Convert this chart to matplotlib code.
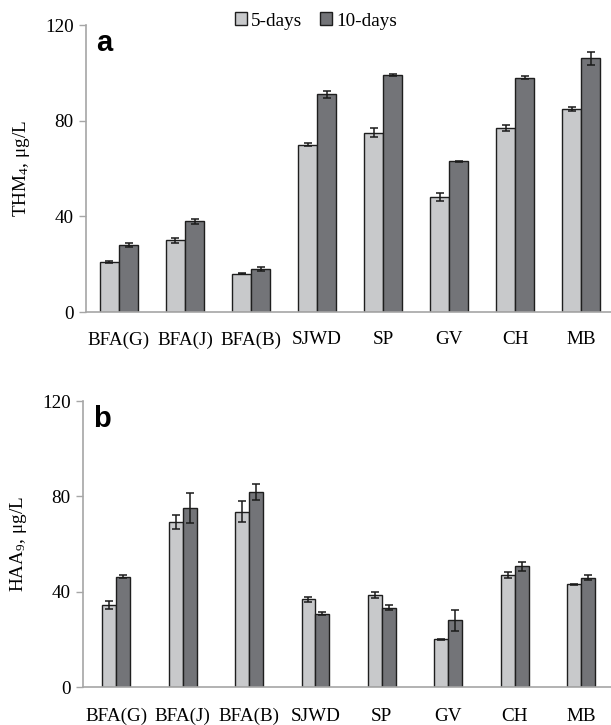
import matplotlib
matplotlib.use("Agg")
import matplotlib.pyplot as plt
from matplotlib.patches import Patch
import numpy as np

plt.rcParams['font.family'] = ['Liberation Serif', 'DejaVu Serif']
plt.rcParams['mathtext.fontset'] = 'custom'
plt.rcParams['mathtext.rm'] = 'Liberation Serif'
plt.rcParams['mathtext.it'] = 'Liberation Serif'

categories = ["BFA(G)", "BFA(J)", "BFA(B)", "SJWD", "SP", "GV", "CH", "MB"]
series_names = ["5-days", "10-days"]

thm_5 = [21, 30, 16, 70, 75, 48, 77, 85]
thm_5_err = [0.5, 1.0, 0.3, 0.8, 1.9, 1.7, 1.3, 0.8]
thm_10 = [28, 38, 18, 91, 99, 63, 98, 106]
thm_10_err = [1.0, 1.0, 0.8, 1.5, 0.5, 0.1, 0.5, 2.7]

haa_5 = [34.4, 69.4, 73.6, 36.8, 38.6, 20.0, 47.0, 43.1]
haa_5_err = [1.6, 2.9, 4.5, 1.0, 1.1, 0.1, 1.4, 0.2]
haa_10 = [46.3, 75.1, 81.8, 30.8, 33.3, 28.0, 50.6, 45.9]
haa_10_err = [0.7, 6.4, 3.4, 0.6, 1.2, 4.5, 2.0, 1.0]

yticks = [0, 40, 80, 120]

light = '#c8c9cb'
dark = '#737478'
edge = '#1e1e1e'
axis_gray = '#a6a6a6'

FS = 13.8

W, H = 611, 725
fig = plt.figure(figsize=(W / 100, H / 100), dpi=100)

def px_axes(left, top, right, bottom):
    return fig.add_axes([left / W, 1 - bottom / H, (right - left) / W, (bottom - top) / H])

def draw(ax, v5, e5, v10, e10, width, ylabel, letter, pad):
    x = np.arange(len(categories))
    ekw = dict(ecolor='#1a1a1a', elinewidth=1.1, capsize=3, capthick=1.1)
    ax.bar(x - width / 2, v5, width, yerr=e5, color=light, edgecolor=edge,
           linewidth=1.0, error_kw=ekw, zorder=2)
    ax.bar(x + width / 2, v10, width, yerr=e10, color=dark, edgecolor=edge,
           linewidth=1.0, error_kw=ekw, zorder=2)
    ax.set_xlim(-0.5, 7.45)
    ax.set_ylim(0, 120)
    ax.set_yticks(yticks)
    ax.set_yticklabels([str(t) for t in yticks], fontsize=FS)
    ax.set_xticks(x)
    ax.set_xticklabels(categories, fontsize=FS)
    ax.tick_params(axis='x', length=0, pad=pad)
    ax.tick_params(axis='y', length=5, width=1, color=axis_gray, pad=4)
    for s in ['top', 'right']:
        ax.spines[s].set_visible(False)
    for s in ['left', 'bottom']:
        ax.spines[s].set_color(axis_gray)
        ax.spines[s].set_linewidth(1.2)
    ax.set_ylabel(ylabel, fontsize=FS)
    ax.yaxis.set_label_coords(-0.103, 0.5)
    ax.text(0.02, 0.985, letter, transform=ax.transAxes, fontsize=21,
            fontweight='bold', family='Liberation Sans', va='top', ha='left')

ax1 = px_axes(86, 25, 611, 312)
draw(ax1, thm_5, thm_5_err, thm_10, thm_10_err, 0.29, "THM$_4$, μg/L", "a", 14)

ax2 = px_axes(83, 401, 611, 687)
draw(ax2, haa_5, haa_5_err, haa_10, haa_10_err, 0.21, "HAA$_9$, μg/L", "b", 15)

handles = [Patch(facecolor=light, edgecolor=edge, linewidth=1.0),
           Patch(facecolor=dark, edgecolor=edge, linewidth=1.0)]
fig.legend(handles, series_names, loc='center', bbox_to_anchor=(316 / W, 1 - 21 / H),
           ncol=2, frameon=False, fontsize=FS, handlelength=0.65, handleheight=0.65,
           handletextpad=0.2, columnspacing=0.9, borderpad=0)

fig.savefig("out.png", dpi=100)
